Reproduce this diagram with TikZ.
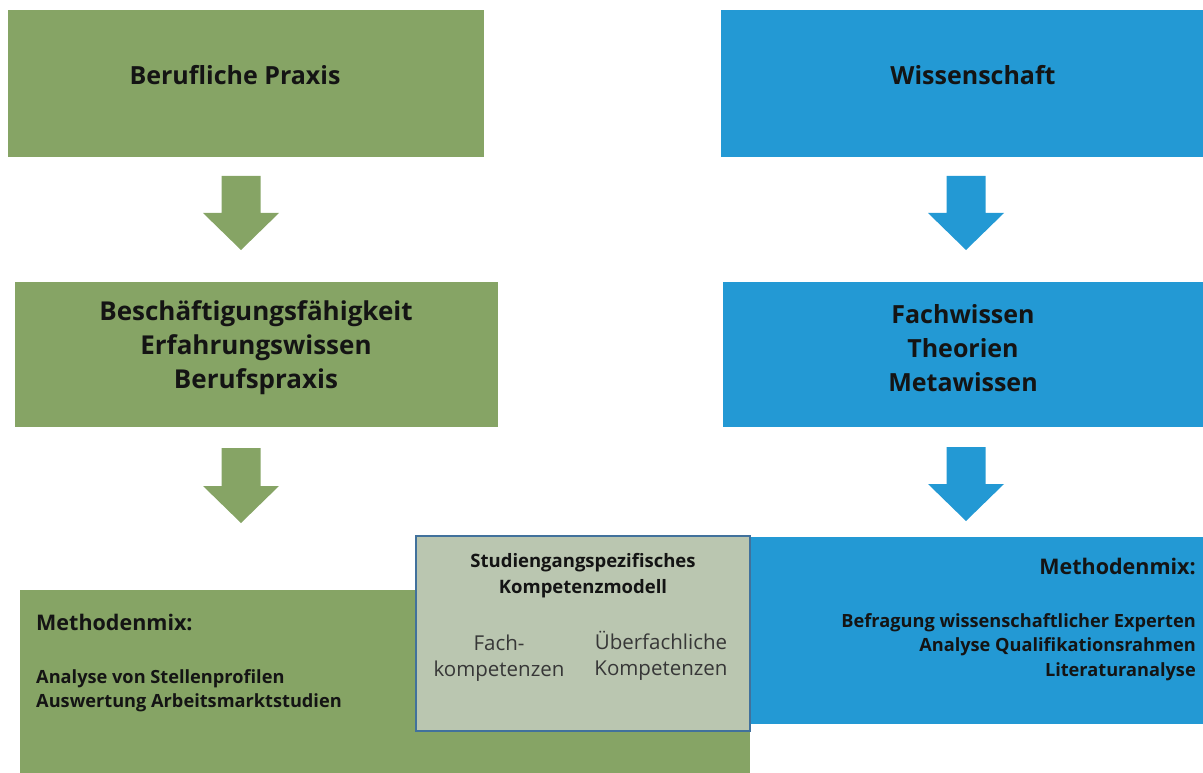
\documentclass[tikz,border=0pt]{standalone}
\usepackage{fontspec}
\setmainfont{Open Sans}
\usetikzlibrary{positioning}
\definecolor{praxisgreen}{RGB}{134,164,101}
\definecolor{wissblue}{RGB}{35,153,212}
\definecolor{modellgray}{RGB}{186,198,176}
\definecolor{modellborder}{RGB}{65,113,156}
\definecolor{textdark}{RGB}{20,20,20}
\tikzstyle{box} = [anchor=north west,inner sep=0pt]
\tikzstyle{headtext} = [inner sep=0pt,align=center,text=textdark,font=\fontsize{25}{34}\selectfont\bfseries]
\tikzstyle{mixtext} = [inner sep=0pt,text=textdark,font=\fontsize{21.5}{24}\selectfont\bfseries]
\tikzstyle{listtext} = [inner sep=0pt,text=textdark,font=\fontsize{18.2}{24.5}\selectfont\bfseries]

\begin{document}
\begin{tikzpicture}[x=1pt,y=-1pt]
	\useasboundingbox (0,0) rectangle (1203,773);
	%Top boxes
	\node [box,fill=praxisgreen,minimum width=476,minimum height=147] (praxis) at (8,10) {};
	\node [box,fill=wissblue,minimum width=482,minimum height=147] (wiss) at (721,10) {};
	\node [headtext] (praxistext) at (235,75) {Berufliche Praxis};
	\node [headtext] (wisstext) at (973,75) {Wissenschaft};
	
	%Middle boxes
	\node [box,fill=praxisgreen,minimum width=483,minimum height=145] (beschaeft) at (15,282) {};
	\node [box,fill=wissblue,minimum width=480,minimum height=145] (fachwissen) at (723,282) {};
	\node [headtext,font=\fontsize{26}{34}\selectfont\bfseries] (beschaefttext) at (256,348) {Beschäftigungsfähigkeit\\Erfahrungswissen\\Berufspraxis};
	\node [headtext] (fachwissentext) at (963,348) {Fachwissen\\Theorien\\Metawissen};
	
	%Arrows
	\fill[praxisgreen] (221.5,176) -- (260.5,176) -- (260.5,213) -- (279,213) -- (241,250) -- (203,213) -- (221.5,213) -- cycle;
	\fill[wissblue] (946.5,176) -- (985.5,176) -- (985.5,213) -- (1004,213) -- (966,250) -- (928,213) -- (946.5,213) -- cycle;
	\fill[praxisgreen] (221.5,448) -- (260.5,448) -- (260.5,486) -- (279,486) -- (241,523) -- (203,486) -- (221.5,486) -- cycle;
	\fill[wissblue] (946.5,447) -- (985.5,447) -- (985.5,484) -- (1004,484) -- (966,521) -- (928,484) -- (946.5,484) -- cycle;
	
	%Bottom boxes
	\node [box,fill=praxisgreen,minimum width=730,minimum height=183] (gmix) at (20,590) {};
	\node [box,fill=wissblue,minimum width=453,minimum height=187] (bmix) at (750,537) {};
	
	\node [mixtext,anchor=west] (gmixhead) at (36,622) {Methodenmix:};
	\node [listtext,anchor=north west,align=left] (gmixlist) at (36,669) {Analyse von Stellenprofilen\\Auswertung Arbeitsmarktstudien};
	
	\node [mixtext,anchor=east] (bmixhead) at (1196,566) {Methodenmix:};
	\node [listtext,anchor=north east,align=right] (bmixlist) at (1196,613) {Befragung wissenschaftlicher Experten\\Analyse Qualifikationsrahmen\\Literaturanalyse};
	
	%Competence model
	\node [box,fill=modellgray,draw=modellborder,line width=1.6pt,minimum width=334,minimum height=195] (modell) at (415,535) {};
	\node [inner sep=0pt,align=center,text=textdark,font=\fontsize{18.5}{26}\selectfont\bfseries] (modelltitle) at (583,576) {Studiengangspezifisches\\Kompetenzmodell};
	\node [inner sep=0pt,align=center,text=textdark!85,font=\fontsize{20.5}{26}\selectfont] (fachk) at (499,658) {Fach-\\kompetenzen};
	\node [inner sep=0pt,align=center,text=textdark!85,font=\fontsize{20.5}{26}\selectfont] (ueberk) at (661,656) {Überfachliche\\Kompetenzen};
\end{tikzpicture}
\end{document}
